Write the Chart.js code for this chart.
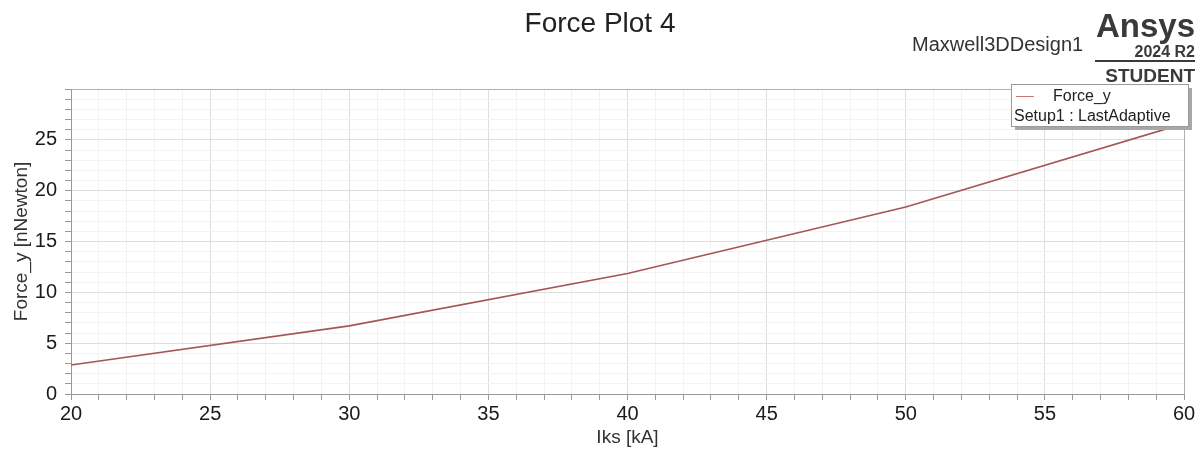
<!DOCTYPE html>
<html>
<head>
<meta charset="utf-8">
<title>Force Plot 4</title>
<script src="https://cdn.jsdelivr.net/npm/chart.js@4.4.1/dist/chart.umd.min.js"></script>
<style>
  html, body { margin: 0; padding: 0; background: #fff; }
  #wrap { width: 1203px; height: 450px; }
</style>
</head>
<body>
<div id="wrap"><canvas id="forceChart" width="1203" height="450"></canvas></div>
<script>
// Dados
const iksValues = [20, 30, 40, 50, 60];          // Iks [kA]
const forceValues = [2.85, 6.7, 11.85, 18.4, 26.6]; // Force_y [nNewton]
const xTickLabels = [20, 25, 30, 35, 40, 45, 50, 55, 60];
const yTickLabels = [0, 5, 10, 15, 20, 25];

const FONT = '"Liberation Sans", Arial, sans-serif';
const lineColor = 'rgb(165, 85, 85)';

// Cabeçalho: título, nome do design e logo
const headerPlugin = {
    id: 'header',
    afterDraw(chart) {
        const ctx = chart.ctx;
        ctx.save();
        ctx.fillStyle = '#222';
        ctx.textBaseline = 'alphabetic';

        ctx.font = '28px ' + FONT;
        ctx.textAlign = 'center';
        ctx.fillText('Force Plot 4', 600, 32);

        ctx.font = '20px ' + FONT;
        ctx.textAlign = 'left';
        ctx.fillStyle = '#333';
        ctx.fillText('Maxwell3DDesign1', 912, 51);

        ctx.textAlign = 'right';
        ctx.fillStyle = '#3a3a3a';
        ctx.font = 'bold 33px ' + FONT;
        ctx.fillText('Ansys', 1195, 37);
        ctx.font = 'bold 16px ' + FONT;
        ctx.fillText('2024 R2', 1195, 57);
        ctx.fillRect(1095, 60, 100, 2);
        ctx.font = 'bold 19px ' + FONT;
        ctx.fillText('STUDENT', 1195, 82);
        ctx.restore();
    }
};

// Legenda desenhada como caixa com sombra
const legendBoxPlugin = {
    id: 'legendBox',
    afterDraw(chart) {
        const ctx = chart.ctx;
        const x = 1011, y = 84, w = 177, h = 42;
        ctx.save();
        ctx.fillStyle = '#a8a8a8';
        ctx.fillRect(x + 4, y + 4, w, h);
        ctx.fillStyle = '#fff';
        ctx.fillRect(x, y, w, h);
        ctx.strokeStyle = '#999';
        ctx.lineWidth = 1;
        ctx.strokeRect(x + 0.5, y + 0.5, w, h);

        ctx.strokeStyle = 'rgb(200, 120, 120)';
        ctx.beginPath();
        ctx.moveTo(1016, 96.5);
        ctx.lineTo(1034, 96.5);
        ctx.stroke();

        ctx.fillStyle = '#222';
        ctx.font = '16px ' + FONT;
        ctx.textBaseline = 'middle';
        ctx.textAlign = 'left';
        ctx.fillText('Force_y', 1053, 97);
        ctx.fillText('Setup1 : LastAdaptive', 1014, 117);
        ctx.restore();
    }
};

function gridColor(max) {
    return function(c) {
        const v = c.tick ? c.tick.value : 0;
        if (v === max) return '#b0b0b0';
        return v % 5 === 0 ? '#dedede' : '#f3f3f3';
    };
}

new Chart(document.getElementById('forceChart'), {
    type: 'line',
    data: {
        datasets: [{
            label: 'Force_y',
            data: iksValues.map((v, i) => ({ x: v, y: forceValues[i] })),
            borderColor: lineColor,
            borderWidth: 1.6,
            pointRadius: 0,
            tension: 0,
            fill: false
        }]
    },
    options: {
        responsive: false,
        animation: false,
        devicePixelRatio: 1,
        layout: { padding: { top: 89, right: 19, left: 0, bottom: 0 } },
        plugins: {
            legend: { display: false },
            title: { display: false },
            tooltip: { enabled: false }
        },
        scales: {
            x: {
                type: 'linear',
                min: 20,
                max: 60,
                afterFit: s => { s.height = 56; },
                ticks: {
                    stepSize: 1,
                    autoSkip: false,
                    maxTicksLimit: 100,
                    maxRotation: 0,
                    padding: 2,
                    color: '#1a1a1a',
                    font: { family: FONT, size: 20 },
                    callback: v => xTickLabels.includes(v) ? String(v) : ''
                },
                grid: {
                    color: gridColor(60),
                    tickColor: '#999',
                    tickLength: 6,
                    drawTicks: true
                },
                border: { color: '#999' },
                title: {
                    display: true,
                    text: 'Iks [kA]',
                    color: '#333',
                    font: { family: FONT, size: 19 },
                    padding: { top: 0, bottom: 1 }
                }
            },
            y: {
                type: 'linear',
                min: 0,
                max: 30,
                afterFit: s => { s.width = 71; },
                ticks: {
                    stepSize: 1,
                    autoSkip: false,
                    maxTicksLimit: 100,
                    padding: 8,
                    color: '#1a1a1a',
                    font: { family: FONT, size: 20 },
                    callback: v => yTickLabels.includes(v) ? String(v) : ''
                },
                grid: {
                    color: gridColor(30),
                    tickColor: '#999',
                    tickLength: 6
                },
                border: { color: '#999' },
                title: {
                    display: true,
                    text: 'Force_y [nNewton]',
                    color: '#333',
                    font: { family: FONT, size: 19 },
                    padding: { top: 10, bottom: 0 }
                }
            }
        }
    },
    plugins: [headerPlugin, legendBoxPlugin]
});
</script>
</body>
</html>
